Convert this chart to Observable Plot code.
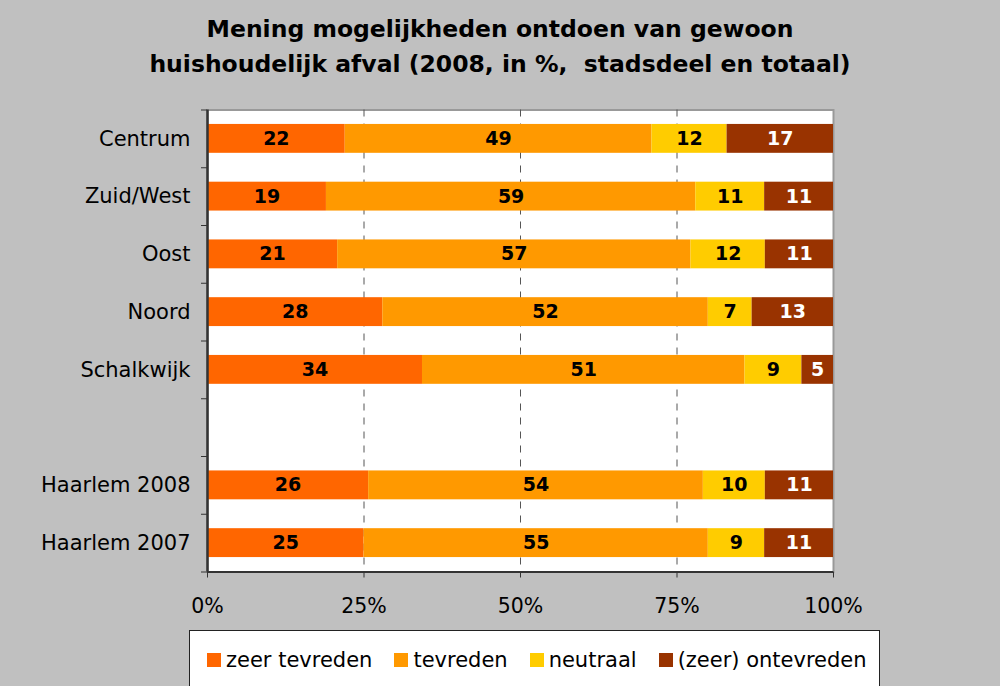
<!DOCTYPE html>
<html><head><meta charset="utf-8">
<script src="https://cdn.jsdelivr.net/npm/d3@7"></script>
<script src="https://cdn.jsdelivr.net/npm/@observablehq/plot@0.6"></script>
<style>
html,body{margin:0;padding:0;background:#c0c0c0;width:1000px;height:686px;overflow:hidden;font-family:"DejaVu Sans",sans-serif;color:#000;}
#title{position:absolute;left:0;top:12px;width:1000px;text-align:center;font-weight:bold;font-size:23.5px;line-height:35px;}
#chart{position:absolute;left:0;top:90px;}
#legend{position:absolute;left:189px;top:630px;width:691px;height:70px;background:#fff;border:1px solid #222;box-sizing:border-box;display:flex;align-items:flex-start;padding-left:17px;padding-top:17px;font-size:21px;white-space:nowrap;}
#legend .item{display:flex;align-items:center;margin-right:22px;}
#legend .sw{width:14px;height:14px;margin-right:5px;}
</style></head>
<body>
<div id="title">Mening mogelijkheden ontdoen van gewoon<br>huishoudelijk afval (2008, in %,&nbsp; stadsdeel en totaal)</div>
<div id="chart"></div>
<div id="legend"></div>
<script>
const categories = ["Centrum","Zuid/West","Oost","Noord","Schalkwijk","","Haarlem 2008","Haarlem 2007"];
const series = ["zeer tevreden","tevreden","neutraal","(zeer) ontevreden"];
const colors = ["#ff6600","#ff9900","#ffcc00","#993300"];
const labelColors = ["#000","#000","#000","#fff"];
const zeerTevreden = [22,19,21,28,34,null,26,25];
const tevreden = [49,59,57,52,51,null,54,55];
const neutraal = [12,11,12,7,9,null,10,9];
const ontevreden = [17,11,11,13,5,null,11,11];
const xTicks = [0,0.25,0.5,0.75,1];
const gridTicks = [0.25,0.5,0.75];

const valuesBySeries = [zeerTevreden, tevreden, neutraal, ontevreden];
const rows = [];
categories.forEach((cat, i) => {
  series.forEach((s, j) => {
    const v = valuesBySeries[j][i];
    if (v != null) rows.push({cat, series: s, value: v, color: colors[j], labelColor: labelColors[j]});
  });
});

const W = 1000, H = 537, mt = 19.5, mb = 55.5, ml = 207, mr = 167;
const step = (H - mt - mb) / categories.length;

const chart = Plot.plot({
  width: W, height: H,
  marginTop: mt, marginBottom: mb, marginLeft: ml, marginRight: mr,
  style: {background: "transparent", fontSize: "20.5px", fontFamily: "DejaVu Sans, sans-serif", color: "#000"},
  x: {domain: [0, 1]},
  y: {domain: categories, paddingInner: 0.5, paddingOuter: 0.25, round: false},
  color: {type: "identity"},
  marks: [
    Plot.frame({fill: "white", stroke: "#999", strokeWidth: 2}),
    Plot.ruleX(gridTicks, {stroke: "#555", strokeDasharray: "7,7"}),
    Plot.barX(rows, Plot.stackX({x: "value", y: "cat", z: "series", fill: "color", offset: "normalize", order: series})),
    Plot.text(rows, Plot.stackX({x: "value", y: "cat", z: "series", text: "value", fill: "labelColor", offset: "normalize", order: series, fontWeight: "bold", fontSize: 19})),
    Plot.ruleX([0], {stroke: "#333", strokeWidth: 2.5}),
    Plot.ruleY(categories.slice(-1), {dy: step / 2, stroke: "#333", strokeWidth: 2}),
    Plot.axisX({ticks: xTicks, tickFormat: d3.format(".0%"), tickSize: 6, tickPadding: 20, label: null, stroke: "#333"}),
    Plot.axisY({tickSize: 0, tickPadding: 17, label: null, fontSize: 21}),
    Plot.axisY({tickSize: 6, tickFormat: () => "", label: null, dy: -step / 2, stroke: "#333"}),
    Plot.axisY({ticks: categories.slice(-1), tickSize: 6, tickFormat: () => "", label: null, dy: step / 2, stroke: "#333"})
  ]
});
document.getElementById("chart").appendChild(chart);

const legend = document.getElementById("legend");
series.forEach((s, j) => {
  const item = document.createElement("div");
  item.className = "item";
  const sw = document.createElement("div");
  sw.className = "sw";
  sw.style.background = colors[j];
  const t = document.createElement("span");
  t.textContent = s;
  item.appendChild(sw); item.appendChild(t);
  legend.appendChild(item);
});
</script>
</body></html>
